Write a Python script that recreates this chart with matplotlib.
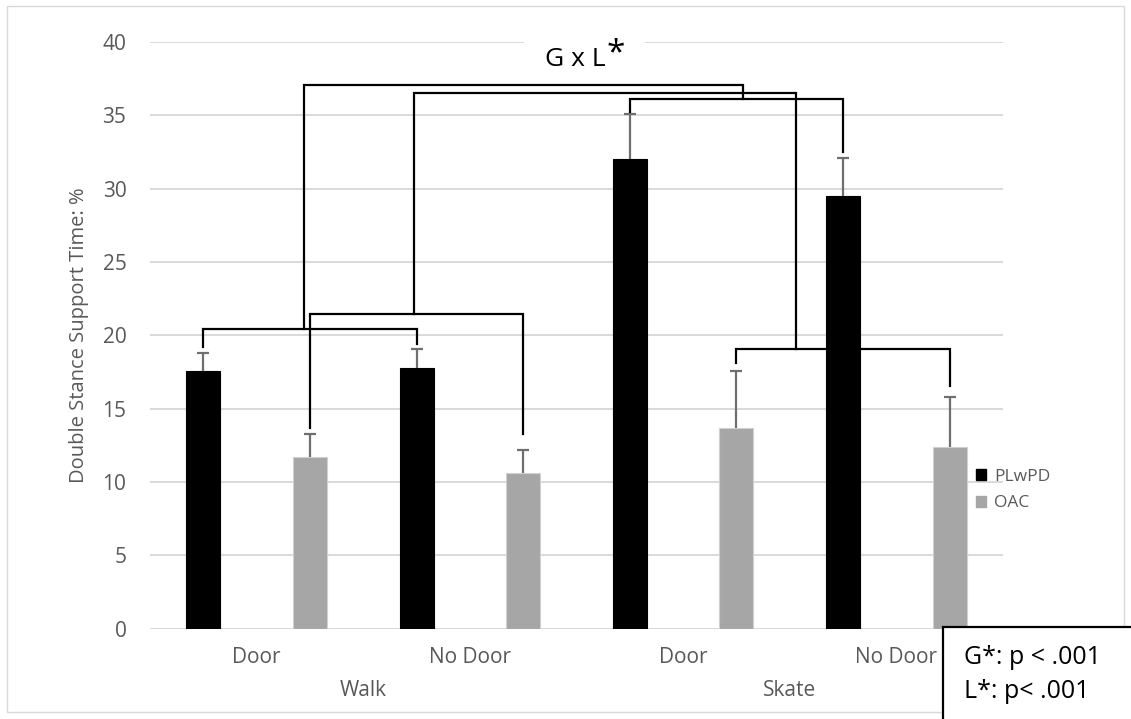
import matplotlib
matplotlib.use('Agg')
import matplotlib.pyplot as plt
from matplotlib.patches import Rectangle, Patch
import numpy as np

plt.rcParams['font.family'] = ['Open Sans', 'DejaVu Sans']

# ---------------- data ----------------
groups = ['Walk', 'Skate']
conditions = ['Door', 'No Door', 'Door', 'No Door']
series_names = ['PLwPD', 'OAC']
plwpd = [17.6, 17.8, 32.0, 29.5]
plwpd_err = [1.2, 1.3, 3.1, 2.6]
oac = [11.7, 10.6, 13.7, 12.4]
oac_err = [1.6, 1.6, 3.9, 3.4]
yticks = [0, 5, 10, 15, 20, 25, 30, 35, 40]
title_text = 'G x L'
stats_lines = ['G*: p < .001', 'L*: p< .001']
ylabel = 'Double Stance Support Time: %'

# brackets: (series index, cat a, cat b, level, end a, end b, connector fraction)
brackets = [
    (0, 0, 1, 20.4, 19.2, 19.4, 0.47),
    (1, 0, 1, 21.45, 13.7, 13.25, 0.49),
    (0, 2, 3, 36.1, 35.25, 32.5, 0.53),
    (1, 2, 3, 19.05, 18.1, 16.55, 0.28),
]
# links between bracket connectors: (bracket i, bracket j, level)
links = [(0, 2, 37.05), (1, 3, 36.5)]

# ---------------- figure ----------------
W, H = 1131, 719
fig = plt.figure(figsize=(W / 100, H / 100), dpi=100)
fig.patch.set_facecolor('white')

def fx(px):
    return px / W

def fy(py):
    return 1 - py / H

ax_left, ax_right, ax_bottom, ax_top = 150, 1003, 628.7, 42
ax = fig.add_axes([fx(ax_left), fy(ax_bottom), fx(ax_right) - fx(ax_left),
                   fy(ax_top) - fy(ax_bottom)])

x = np.arange(len(conditions))
off = 0.25
bw = 0.16
xs = [x - off, x + off]
vals = [plwpd, oac]
errs = [plwpd_err, oac_err]
colors = ['#000000', '#a6a6a6']
edges = ['#000000', '#d0d0d0']

for i in range(2):
    ax.bar(xs[i], vals[i], width=bw, color=colors[i], edgecolor=edges[i],
           linewidth=0.8, zorder=3, label=series_names[i])
    eb = ax.errorbar(xs[i], vals[i], yerr=[np.zeros(len(x)), errs[i]], fmt='none',
                     ecolor='#6f6f6f', elinewidth=1.6, capsize=4, capthick=1.6, zorder=4)
    # hide the lower caps (error bars only go upward)
    eb[1][0].set_visible(False)

ax.set_xlim(-0.5, len(conditions) - 0.5)
ax.set_ylim(0, 40)
ax.set_yticks(yticks)
ax.set_yticklabels([str(t) for t in yticks])
ax.yaxis.grid(True, color='#d9d9d9', linewidth=1.4, zorder=0)
ax.set_axisbelow(True)
for s in ['top', 'right', 'left', 'bottom']:
    ax.spines[s].set_visible(False)
ax.tick_params(axis='both', length=0, labelsize=15, labelcolor='#595959')
ax.tick_params(axis='y', pad=17)
ax.set_xticks(x)
ax.set_xticklabels(conditions)
ax.tick_params(axis='x', pad=13)
ax.set_ylabel(ylabel, fontsize=14.5, color='#595959', labelpad=10)

# group labels (centered under each pair of categories)
axh_px = ax_bottom - ax_top
for gi, g in enumerate(groups):
    cx = (x[2 * gi] + x[2 * gi + 1]) / 2
    ax.text(cx, -(690 - ax_bottom) / axh_px, g, transform=ax.get_xaxis_transform(),
            ha='center', va='center', fontsize=15, color='#595959')

# brackets
conn = []
for (si, a, b, lev, ea, eb_, frac) in brackets:
    xa = xs[si][a]
    xb = xs[si][b]
    ax.plot([xa, xa, xb, xb], [ea, lev, lev, eb_], color='black', lw=1.6,
            solid_joinstyle='miter', zorder=5, clip_on=False)
    conn.append((xa + frac * (xb - xa), lev))
for (i, j, lev) in links:
    (x1, y1), (x2, y2) = conn[i], conn[j]
    ax.plot([x1, x1, x2, x2], [y1, lev, lev, y2], color='black', lw=1.6,
            solid_joinstyle='miter', zorder=5, clip_on=False)

# legend
leg = fig.legend(handles=[Patch(facecolor=colors[0], edgecolor=colors[0]),
                          Patch(facecolor=colors[1], edgecolor=colors[1])],
                 labels=series_names, loc='center left',
                 bbox_to_anchor=(fx(960), fy(490)), frameon=False,
                 fontsize=12.5, handlelength=0.6, handleheight=0.6,
                 handletextpad=0.45, labelspacing=0.6, labelcolor='#595959')

# title with white background over top gridline
fig.patches.append(Rectangle((fx(524), fy(80)), fx(645) - fx(524), fy(28) - fy(80),
                             transform=fig.transFigure, facecolor='white',
                             edgecolor='none', zorder=2))
tt = fig.text(fx(545), fy(59), title_text, ha='left', va='center', fontsize=19,
              color='black', zorder=3)
fig.canvas.draw()
bb = tt.get_window_extent()
fig.text(bb.x1 / W + 0.001, (bb.y1 - 24) / H, '*', fontsize=24, color='black',
         zorder=3, va='bottom', ha='left')

# stats box
fig.patches.append(Rectangle((fx(943), fy(740)), fx(1140) - fx(943), fy(627) - fy(740),
                             transform=fig.transFigure, facecolor='white',
                             edgecolor='black', linewidth=1.6, zorder=2))
fig.text(fx(964), fy(657), stats_lines[0], ha='left', va='center', fontsize=18, zorder=3)
fig.text(fx(964), fy(691), stats_lines[1], ha='left', va='center', fontsize=18, zorder=3)

# outer chart border
fig.patches.append(Rectangle((fx(7), fy(712)), fx(1124) - fx(7), fy(6) - fy(712),
                             transform=fig.transFigure, facecolor='none',
                             edgecolor='#d9d9d9', linewidth=1.0, zorder=1))

fig.savefig('out.png', dpi=100)
